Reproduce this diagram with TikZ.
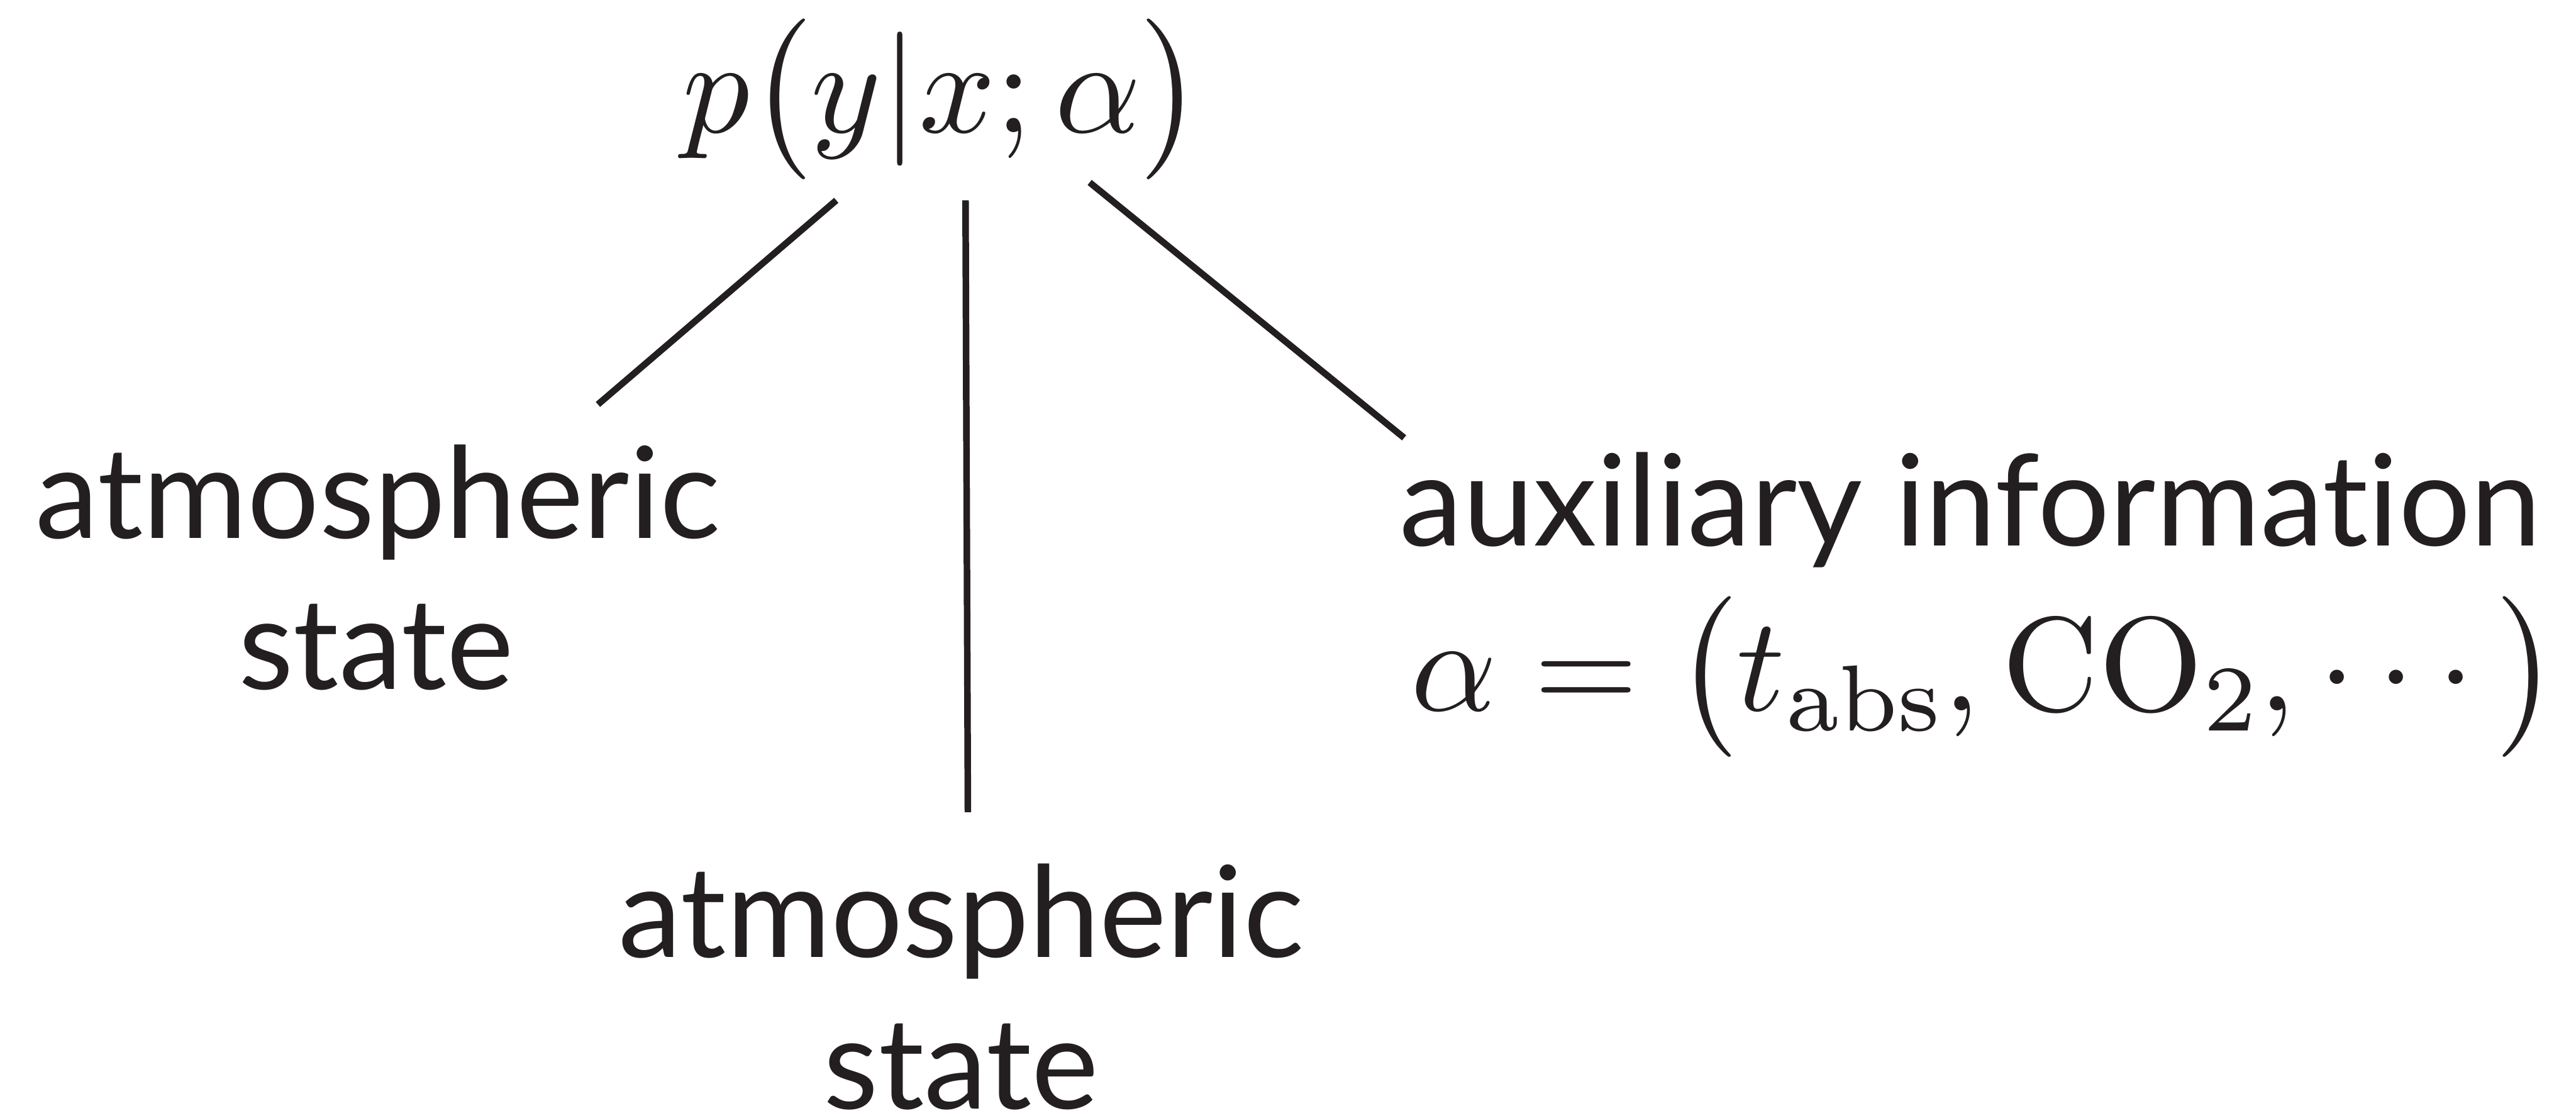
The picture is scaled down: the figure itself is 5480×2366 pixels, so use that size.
\documentclass[tikz,border=0pt]{standalone}
\usepackage[no-math]{fontspec}
\setmainfont{Lato}[Ligatures=NoCommon]
\definecolor{ink}{HTML}{231F20}
\DeclareFontShape{OT1}{cmr}{m}{n}{<-21> cmr7 <21-> cmr10}{}
\DeclareFontShape{OML}{cmm}{m}{it}{<-21> cmmi7 <21-> cmmi10}{}
\DeclareFontShape{OMS}{cmsy}{m}{n}{<-21> cmsy7 <21-> cmsy10}{}
\DeclareMathSizes{28.5}{28.5}{19.95}{14.25}
\DeclareFontFamily{OMX}{mycmex}{}
\DeclareFontShape{OMX}{mycmex}{m}{n}{<-> cmex10}{}
\newcommand\bigL{\mathopen{\vcenter{\hbox{\usefont{OMX}{mycmex}{m}{n}\char0}}}}
\newcommand\bigR{\mathclose{\vcenter{\hbox{\usefont{OMX}{mycmex}{m}{n}\char1}}}}
\tikzset{
  lbl/.style={inner sep=0pt, text=ink, anchor=base, font=\fontsize{27pt}{32pt}\selectfont},
  frm/.style={inner sep=0pt, text=ink, anchor=base, font=\fontsize{28.5pt}{34pt}\selectfont},
  link/.style={draw=ink, line width=1.4pt},
}
\begin{document}
\begin{tikzpicture}[x=0.1pt, y=-0.1pt]
\useasboundingbox (0,0) rectangle (5480,2366);
\node[frm] (top) at (2005,282) {$p\bigL y|x;\alpha\bigR$};
\node[lbl] (leftA) at (804,1145) {atmospheric};
\node[lbl] (leftB) at (800,1465) {state};
\node[lbl] (midA) at (2045,2036) {atmospheric};
\node[lbl] (midB) at (2045,2358) {state};
\node[lbl] (auxA) at (4192,1160) {auxiliary information};
\node[frm] (auxB) at (4222,1511) {$\alpha = \bigL t_{\mathrm{abs}}, \mathrm{CO}_2, \cdots\,\bigR$};
\coordinate (t1) at (1779,426);
\coordinate (b1) at (1272,860);
\coordinate (t2) at (2054,426);
\coordinate (b2) at (2059,1727);
\coordinate (t3) at (2318,388);
\coordinate (b3) at (2987,931);
\draw[link] (t1) -- (b1);
\draw[link] (t2) -- (b2);
\draw[link] (t3) -- (b3);
\end{tikzpicture}
\end{document}
